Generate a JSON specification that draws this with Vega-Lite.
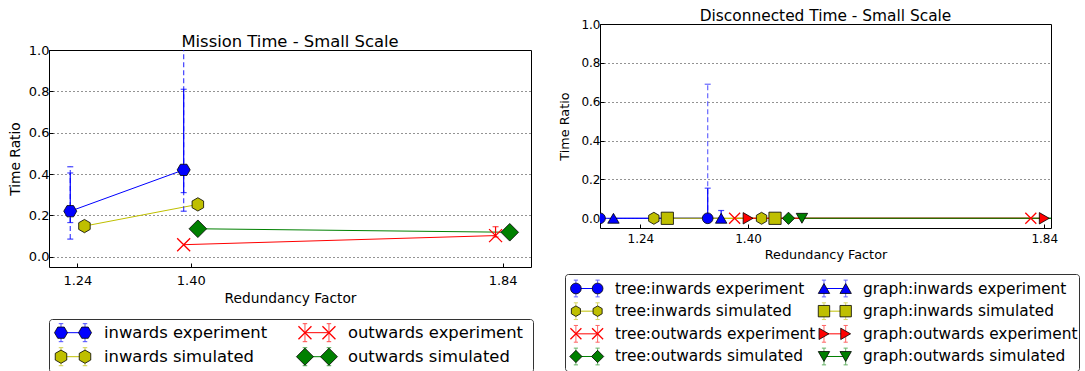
{
  "$schema": "https://vega.github.io/schema/vega-lite/v6.json",
  "padding": {"left": 7, "top": 8, "right": 0, "bottom": 0},
  "background": "white",
  "config": {
    "font": "DejaVu Sans",
    "view": {"stroke": "#000000", "strokeWidth": 1},
    "axis": {
      "domain": false,
      "tickColor": "#000000",
      "tickSize": -4,
      "labelColor": "#000000",
      "titleColor": "#000000",
      "titleFontWeight": "normal",
      "labelFont": "DejaVu Sans",
      "titleFont": "DejaVu Sans"
    },
    "title": {"color": "#000000", "fontWeight": "normal", "font": "DejaVu Sans", "anchor": "middle"}
  },
  "datasets": {
    "mission": [
      {"series": "inwards experiment", "direction": "inwards", "source": "experiment", "rf": 1.23, "ratio": 0.22, "lo": 0.165, "hi": 0.405, "min": 0.085, "max": 0.435},
      {"series": "inwards experiment", "direction": "inwards", "source": "experiment", "rf": 1.39, "ratio": 0.42, "lo": 0.31, "hi": 0.81, "min": 0.22, "max": 1.12},
      {"series": "inwards simulated", "direction": "inwards", "source": "simulated", "rf": 1.25, "ratio": 0.148},
      {"series": "inwards simulated", "direction": "inwards", "source": "simulated", "rf": 1.41, "ratio": 0.253},
      {"series": "outwards experiment", "direction": "outwards", "source": "experiment", "rf": 1.39, "ratio": 0.058},
      {"series": "outwards experiment", "direction": "outwards", "source": "experiment", "rf": 1.83, "ratio": 0.102, "lo": 0.095, "hi": 0.145},
      {"series": "outwards simulated", "direction": "outwards", "source": "simulated", "rf": 1.41, "ratio": 0.135},
      {"series": "outwards simulated", "direction": "outwards", "source": "simulated", "rf": 1.85, "ratio": 0.118}
    ],
    "disconnected": [
      {"series": "tree:inwards experiment", "topology": "tree", "kind": "inwards experiment", "rf": 1.18, "ratio": 0},
      {"series": "tree:inwards experiment", "topology": "tree", "kind": "inwards experiment", "rf": 1.34, "ratio": 0, "lo": 0, "hi": 0.155, "min": 0, "max": 0.69},
      {"series": "tree:inwards simulated", "topology": "tree", "kind": "inwards simulated", "rf": 1.26, "ratio": 0},
      {"series": "tree:inwards simulated", "topology": "tree", "kind": "inwards simulated", "rf": 1.42, "ratio": 0},
      {"series": "tree:outwards experiment", "topology": "tree", "kind": "outwards experiment", "rf": 1.38, "ratio": 0},
      {"series": "tree:outwards experiment", "topology": "tree", "kind": "outwards experiment", "rf": 1.82, "ratio": 0},
      {"series": "tree:outwards simulated", "topology": "tree", "kind": "outwards simulated", "rf": 1.46, "ratio": 0},
      {"series": "tree:outwards simulated", "topology": "tree", "kind": "outwards simulated", "rf": 1.90, "ratio": 0},
      {"series": "graph:inwards experiment", "topology": "graph", "kind": "inwards experiment", "rf": 1.20, "ratio": 0},
      {"series": "graph:inwards experiment", "topology": "graph", "kind": "inwards experiment", "rf": 1.36, "ratio": 0, "lo": 0, "hi": 0.04},
      {"series": "graph:inwards simulated", "topology": "graph", "kind": "inwards simulated", "rf": 1.28, "ratio": 0},
      {"series": "graph:inwards simulated", "topology": "graph", "kind": "inwards simulated", "rf": 1.44, "ratio": 0},
      {"series": "graph:outwards experiment", "topology": "graph", "kind": "outwards experiment", "rf": 1.40, "ratio": 0},
      {"series": "graph:outwards experiment", "topology": "graph", "kind": "outwards experiment", "rf": 1.84, "ratio": 0},
      {"series": "graph:outwards simulated", "topology": "graph", "kind": "outwards simulated", "rf": 1.48, "ratio": 0},
      {"series": "graph:outwards simulated", "topology": "graph", "kind": "outwards simulated", "rf": 1.92, "ratio": 0}
    ]
  },
  "resolve": {"scale": {"x": "independent", "y": "independent", "color": "independent", "shape": "independent", "size": "independent"}},
  "spacing": 24,
  "hconcat": [
    {
      "spacing": 8,
      "resolve": {"scale": {"x": "independent", "y": "independent", "color": "independent", "shape": "independent", "size": "independent"}},
      "vconcat": [
        {
          "width": 1,
          "height": 1,
          "data": {"values": []},
          "view": {"stroke": null},
          "mark": {"type": "rule", "opacity": 0},
          "encoding": {}
        },
        {
          "bounds": "flush",
          "spacing": 52,
          "resolve": {"scale": {"x": "independent", "y": "independent", "color": "independent", "shape": "independent", "size": "independent"}},
          "vconcat": [
            {
              "width": 482,
              "height": 217,
              "title": {"text": "Mission Time - Small Scale", "fontSize": 16.4, "offset": -6},
              "data": {"name": "mission"},
              "encoding": {
                "x": {
                  "field": "rf", "type": "quantitative",
                  "scale": {"domain": [1.2, 1.88], "nice": false, "zero": false},
                  "axis": {"values": [1.24, 1.4, 1.84], "format": ".2f", "title": "Redundancy Factor", "grid": false, "labelPadding": 11, "labelFontSize": 13, "titleFontSize": 13.8, "titlePadding": 4}
                },
                "y": {
                  "field": "ratio", "type": "quantitative",
                  "scale": {"domain": [-0.05, 1.0], "nice": false, "zero": false},
                  "axis": {"values": [0, 0.2, 0.4, 0.6, 0.8, 1.0], "format": ".1f", "title": "Time Ratio", "grid": true, "gridDash": [1, 3], "gridColor": "#000000", "gridOpacity": 0.85, "labelPadding": 4, "labelFontSize": 13, "titleFontSize": 13.8, "titlePadding": 6}
                },
                "color": {
                  "field": "series", "type": "nominal", "legend": null,
                  "scale": {"domain": ["inwards experiment", "inwards simulated", "outwards experiment", "outwards simulated"], "range": ["#0000ff", "#bfbf00", "#ff0000", "#008000"]}
                }
              },
              "layer": [
                {"mark": {"type": "line", "strokeWidth": 1, "clip": true}},
                {
                  "transform": [{"filter": "isValid(datum.min)"}],
                  "mark": {"type": "rule", "strokeDash": [5, 3], "strokeWidth": 1.2, "opacity": 0.75, "clip": true},
                  "encoding": {"y": {"field": "min", "type": "quantitative", "title": "Time Ratio"}, "y2": {"field": "max"}}
                },
                {
                  "transform": [{"filter": "isValid(datum.min)"}, {"fold": ["min", "max"], "as": ["end", "bound"]}],
                  "mark": {"type": "tick", "orient": "horizontal", "size": 6, "thickness": 1.2, "opacity": 0.75, "clip": true},
                  "encoding": {"y": {"field": "bound", "type": "quantitative", "title": "Time Ratio"}}
                },
                {
                  "transform": [{"filter": "isValid(datum.lo)"}],
                  "mark": {"type": "rule", "strokeWidth": 1.2, "clip": true},
                  "encoding": {"y": {"field": "lo", "type": "quantitative", "title": "Time Ratio"}, "y2": {"field": "hi"}}
                },
                {
                  "transform": [{"filter": "isValid(datum.lo)"}, {"fold": ["lo", "hi"], "as": ["end", "bound"]}],
                  "mark": {"type": "tick", "orient": "horizontal", "size": 6, "thickness": 1.2, "clip": true},
                  "encoding": {"y": {"field": "bound", "type": "quantitative", "title": "Time Ratio"}}
                },
                {
                  "mark": {"type": "point", "filled": true, "opacity": 1, "clip": true},
                  "encoding": {
                    "shape": {
                      "field": "series", "type": "nominal", "legend": null,
                      "scale": {"domain": ["inwards experiment", "inwards simulated", "outwards experiment", "outwards simulated"], "range": ["M-1,0L-0.5,-0.866L0.5,-0.866L1,0L0.5,0.866L-0.5,0.866Z", "M0,-1L0.866,-0.5L0.866,0.5L0,1L-0.866,0.5L-0.866,-0.5Z", "M-1,-1L1,1M-1,1L1,-1", "M0,-1L1,0L0,1L-1,0Z"]}
                    },
                    "size": {
                      "field": "series", "type": "nominal", "legend": null,
                      "scale": {"type": "ordinal", "domain": ["inwards experiment", "inwards simulated", "outwards experiment", "outwards simulated"], "range": [169, 177, 169, 310]}
                    },
                    "stroke": {"condition": {"test": "datum.series === 'outwards experiment'", "value": "#ff0000"}, "value": "#000000"},
                    "strokeWidth": {"condition": {"test": "datum.series === 'outwards experiment'", "value": 1.3}, "value": 0.8}
                  }
                }
              ]
            },
            {
              "width": 484,
              "height": 53,
              "data": {"name": "mission"},
              "transform": [{"aggregate": [{"op": "count", "as": "n"}], "groupby": ["series", "direction", "source"]}],
              "view": {"stroke": "#333333", "strokeWidth": 1, "cornerRadius": 3},
              "encoding": {
                "x": {"field": "direction", "type": "nominal", "axis": null, "scale": {"type": "point", "domain": ["inwards", "outwards"], "padding": 0.492, "align": 0.05}},
                "y": {"field": "source", "type": "nominal", "axis": null, "scale": {"type": "point", "domain": ["experiment", "simulated"], "padding": 0.604, "align": 0.472}},
                "color": {
                  "field": "series", "type": "nominal", "legend": null,
                  "scale": {"domain": ["inwards experiment", "inwards simulated", "outwards experiment", "outwards simulated"], "range": ["#0000ff", "#bfbf00", "#ff0000", "#008000"]}
                }
              },
              "layer": [
                {"mark": {"type": "rule", "strokeWidth": 1, "x2Offset": 24}, "encoding": {"x2": {"field": "direction"}}},
                {"mark": {"type": "point", "filled": false, "shape": "M0,-1L0,1M-0.25,-1L0.25,-1M-0.25,1L0.25,1", "size": 324, "strokeWidth": 1, "opacity": 0.7}},
                {"mark": {"type": "point", "filled": false, "shape": "M0,-1L0,1M-0.25,-1L0.25,-1M-0.25,1L0.25,1", "size": 324, "strokeWidth": 1, "opacity": 0.7, "xOffset": 24}},
                {
                  "mark": {"type": "point", "filled": true, "opacity": 1},
                  "encoding": {
                    "shape": {
                      "field": "series", "type": "nominal", "legend": null,
                      "scale": {"domain": ["inwards experiment", "inwards simulated", "outwards experiment", "outwards simulated"], "range": ["M-1,0L-0.5,-0.866L0.5,-0.866L1,0L0.5,0.866L-0.5,0.866Z", "M0,-1L0.866,-0.5L0.866,0.5L0,1L-0.866,0.5L-0.866,-0.5Z", "M-1,-1L1,1M-1,1L1,-1", "M0,-1L1,0L0,1L-1,0Z"]}
                    },
                    "size": {
                      "field": "series", "type": "nominal", "legend": null,
                      "scale": {"type": "ordinal", "domain": ["inwards experiment", "inwards simulated", "outwards experiment", "outwards simulated"], "range": [169, 177, 169, 290]}
                    },
                    "stroke": {"condition": {"test": "datum.series === 'outwards experiment'", "value": "#ff0000"}, "value": "#000000"},
                    "strokeWidth": {"condition": {"test": "datum.series === 'outwards experiment'", "value": 1.3}, "value": 0.8}
                  }
                },
                {
                  "mark": {"type": "point", "filled": true, "opacity": 1, "xOffset": 24},
                  "encoding": {
                    "shape": {
                      "field": "series", "type": "nominal", "legend": null,
                      "scale": {"domain": ["inwards experiment", "inwards simulated", "outwards experiment", "outwards simulated"], "range": ["M-1,0L-0.5,-0.866L0.5,-0.866L1,0L0.5,0.866L-0.5,0.866Z", "M0,-1L0.866,-0.5L0.866,0.5L0,1L-0.866,0.5L-0.866,-0.5Z", "M-1,-1L1,1M-1,1L1,-1", "M0,-1L1,0L0,1L-1,0Z"]}
                    },
                    "size": {
                      "field": "series", "type": "nominal", "legend": null,
                      "scale": {"type": "ordinal", "domain": ["inwards experiment", "inwards simulated", "outwards experiment", "outwards simulated"], "range": [169, 177, 169, 290]}
                    },
                    "stroke": {"condition": {"test": "datum.series === 'outwards experiment'", "value": "#ff0000"}, "value": "#000000"},
                    "strokeWidth": {"condition": {"test": "datum.series === 'outwards experiment'", "value": 1.3}, "value": 0.8}
                  }
                },
                {
                  "mark": {"type": "text", "align": "left", "baseline": "middle", "xOffset": 43, "fontSize": 16.4, "font": "DejaVu Sans"},
                  "encoding": {"text": {"field": "series"}, "color": {"value": "#000000"}}
                }
              ]
            }
          ]
        }
      ]
    },
    {
      "spacing": 11,
      "resolve": {"scale": {"x": "independent", "y": "independent", "color": "independent", "shape": "independent", "size": "independent"}},
      "vconcat": [
        {
          "bounds": "flush",
          "spacing": 34,
          "resolve": {"scale": {"x": "independent", "y": "independent", "color": "independent", "shape": "independent", "size": "independent"}},
          "hconcat": [
            {
              "width": 1,
              "height": 1,
              "data": {"values": []},
              "view": {"stroke": null},
              "mark": {"type": "rule", "opacity": 0},
              "encoding": {}
            },
            {
              "width": 451,
              "height": 204,
              "title": {"text": "Disconnected Time - Small Scale", "fontSize": 15.4, "offset": -6},
              "data": {"name": "disconnected"},
              "encoding": {
                "x": {
                  "field": "rf", "type": "quantitative",
                  "scale": {"domain": [1.18, 1.85], "nice": false, "zero": false},
                  "axis": {"values": [1.24, 1.4, 1.84], "format": ".2f", "title": "Redundancy Factor", "grid": false, "labelPadding": 9, "labelFontSize": 12, "titleFontSize": 12.8, "titlePadding": 4}
                },
                "y": {
                  "field": "ratio", "type": "quantitative",
                  "scale": {"domain": [-0.05, 1.0], "nice": false, "zero": false},
                  "axis": {"values": [0, 0.2, 0.4, 0.6, 0.8, 1.0], "format": ".1f", "title": "Time Ratio", "grid": true, "gridDash": [1, 3], "gridColor": "#000000", "gridOpacity": 0.85, "labelPadding": 4, "labelFontSize": 12, "titleFontSize": 12.8, "titlePadding": 9}
                },
                "color": {
                  "field": "series", "type": "nominal", "legend": null,
                  "scale": {
                    "domain": ["tree:inwards experiment", "tree:inwards simulated", "tree:outwards experiment", "tree:outwards simulated", "graph:inwards experiment", "graph:inwards simulated", "graph:outwards experiment", "graph:outwards simulated"],
                    "range": ["#0000ff", "#bfbf00", "#ff0000", "#008000", "#0000ff", "#bfbf00", "#ff0000", "#008000"]
                  }
                }
              },
              "layer": [
                {"mark": {"type": "line", "strokeWidth": 1, "clip": true}},
                {
                  "transform": [{"filter": "isValid(datum.min)"}],
                  "mark": {"type": "rule", "strokeDash": [5, 3], "strokeWidth": 1.2, "opacity": 0.6, "clip": true},
                  "encoding": {"y": {"field": "min", "type": "quantitative", "title": "Time Ratio"}, "y2": {"field": "max"}}
                },
                {
                  "transform": [{"filter": "isValid(datum.min)"}, {"fold": ["min", "max"], "as": ["end", "bound"]}],
                  "mark": {"type": "tick", "orient": "horizontal", "size": 6, "thickness": 1.2, "opacity": 0.6, "clip": true},
                  "encoding": {"y": {"field": "bound", "type": "quantitative", "title": "Time Ratio"}}
                },
                {
                  "transform": [{"filter": "isValid(datum.lo)"}],
                  "mark": {"type": "rule", "strokeWidth": 1.2, "clip": true},
                  "encoding": {"y": {"field": "lo", "type": "quantitative", "title": "Time Ratio"}, "y2": {"field": "hi"}}
                },
                {
                  "transform": [{"filter": "isValid(datum.lo)"}, {"fold": ["lo", "hi"], "as": ["end", "bound"]}],
                  "mark": {"type": "tick", "orient": "horizontal", "size": 6, "thickness": 1.2, "clip": true},
                  "encoding": {"y": {"field": "bound", "type": "quantitative", "title": "Time Ratio"}}
                },
                {
                  "mark": {"type": "point", "filled": true, "opacity": 1, "clip": true},
                  "encoding": {
                    "shape": {
                      "field": "series", "type": "nominal", "legend": null,
                      "scale": {
                        "domain": ["tree:inwards experiment", "tree:inwards simulated", "tree:outwards experiment", "tree:outwards simulated", "graph:inwards experiment", "graph:inwards simulated", "graph:outwards experiment", "graph:outwards simulated"],
                        "range": ["circle", "M0,-1L0.866,-0.5L0.866,0.5L0,1L-0.866,0.5L-0.866,-0.5Z", "M-1,-1L1,1M-1,1L1,-1", "M0,-1L1,0L0,1L-1,0Z", "triangle-up", "square", "triangle-right", "triangle-down"]
                      }
                    },
                    "size": {
                      "field": "series", "type": "nominal", "legend": null,
                      "scale": {
                        "type": "ordinal",
                        "domain": ["tree:inwards experiment", "tree:inwards simulated", "tree:outwards experiment", "tree:outwards simulated", "graph:inwards experiment", "graph:inwards simulated", "graph:outwards experiment", "graph:outwards simulated"],
                        "range": [115, 144, 121, 150, 130, 150, 130, 130]
                      }
                    },
                    "stroke": {"condition": {"test": "datum.series === 'tree:outwards experiment'", "value": "#ff0000"}, "value": "#000000"},
                    "strokeWidth": {"condition": {"test": "datum.series === 'tree:outwards experiment'", "value": 1.3}, "value": 0.8}
                  }
                }
              ]
            }
          ]
        },
        {
          "width": 514,
          "height": 97,
          "data": {"name": "disconnected"},
          "transform": [{"aggregate": [{"op": "count", "as": "n"}], "groupby": ["series", "topology", "kind"]}],
          "view": {"stroke": "#333333", "strokeWidth": 1, "cornerRadius": 3},
          "encoding": {
            "x": {"field": "topology", "type": "nominal", "axis": null, "scale": {"type": "point", "domain": ["tree", "graph"], "padding": 0.536, "align": 0.041}},
            "y": {"field": "kind", "type": "nominal", "axis": null, "scale": {"type": "point", "domain": ["inwards experiment", "inwards simulated", "outwards experiment", "outwards simulated"], "padding": 0.64, "align": 0.5}},
            "color": {
              "field": "series", "type": "nominal", "legend": null,
              "scale": {
                "domain": ["tree:inwards experiment", "tree:inwards simulated", "tree:outwards experiment", "tree:outwards simulated", "graph:inwards experiment", "graph:inwards simulated", "graph:outwards experiment", "graph:outwards simulated"],
                "range": ["#0000ff", "#bfbf00", "#ff0000", "#008000", "#0000ff", "#bfbf00", "#ff0000", "#008000"]
              }
            }
          },
          "layer": [
            {"mark": {"type": "rule", "strokeWidth": 1, "x2Offset": 21.7}, "encoding": {"x2": {"field": "topology"}}},
            {"mark": {"type": "point", "filled": false, "shape": "M0,-1L0,1M-0.25,-1L0.25,-1M-0.25,1L0.25,1", "size": 280, "strokeWidth": 1, "opacity": 0.6}},
            {"mark": {"type": "point", "filled": false, "shape": "M0,-1L0,1M-0.25,-1L0.25,-1M-0.25,1L0.25,1", "size": 280, "strokeWidth": 1, "opacity": 0.6, "xOffset": 21.7}},
            {
              "mark": {"type": "point", "filled": true, "opacity": 1},
              "encoding": {
                "shape": {
                  "field": "series", "type": "nominal", "legend": null,
                  "scale": {
                    "domain": ["tree:inwards experiment", "tree:inwards simulated", "tree:outwards experiment", "tree:outwards simulated", "graph:inwards experiment", "graph:inwards simulated", "graph:outwards experiment", "graph:outwards simulated"],
                    "range": ["circle", "M0,-1L0.866,-0.5L0.866,0.5L0,1L-0.866,0.5L-0.866,-0.5Z", "M-1,-1L1,1M-1,1L1,-1", "M0,-1L1,0L0,1L-1,0Z", "triangle-up", "square", "triangle-right", "triangle-down"]
                  }
                },
                "size": {
                  "field": "series", "type": "nominal", "legend": null,
                  "scale": {
                    "type": "ordinal",
                    "domain": ["tree:inwards experiment", "tree:inwards simulated", "tree:outwards experiment", "tree:outwards simulated", "graph:inwards experiment", "graph:inwards simulated", "graph:outwards experiment", "graph:outwards simulated"],
                    "range": [115, 110, 121, 150, 130, 130, 130, 130]
                  }
                },
                "stroke": {"condition": {"test": "datum.series === 'tree:outwards experiment'", "value": "#ff0000"}, "value": "#000000"},
                "strokeWidth": {"condition": {"test": "datum.series === 'tree:outwards experiment'", "value": 1.3}, "value": 0.8}
              }
            },
            {
              "mark": {"type": "point", "filled": true, "opacity": 1, "xOffset": 21.7},
              "encoding": {
                "shape": {
                  "field": "series", "type": "nominal", "legend": null,
                  "scale": {
                    "domain": ["tree:inwards experiment", "tree:inwards simulated", "tree:outwards experiment", "tree:outwards simulated", "graph:inwards experiment", "graph:inwards simulated", "graph:outwards experiment", "graph:outwards simulated"],
                    "range": ["circle", "M0,-1L0.866,-0.5L0.866,0.5L0,1L-0.866,0.5L-0.866,-0.5Z", "M-1,-1L1,1M-1,1L1,-1", "M0,-1L1,0L0,1L-1,0Z", "triangle-up", "square", "triangle-right", "triangle-down"]
                  }
                },
                "size": {
                  "field": "series", "type": "nominal", "legend": null,
                  "scale": {
                    "type": "ordinal",
                    "domain": ["tree:inwards experiment", "tree:inwards simulated", "tree:outwards experiment", "tree:outwards simulated", "graph:inwards experiment", "graph:inwards simulated", "graph:outwards experiment", "graph:outwards simulated"],
                    "range": [115, 110, 121, 150, 130, 130, 130, 130]
                  }
                },
                "stroke": {"condition": {"test": "datum.series === 'tree:outwards experiment'", "value": "#ff0000"}, "value": "#000000"},
                "strokeWidth": {"condition": {"test": "datum.series === 'tree:outwards experiment'", "value": 1.3}, "value": 0.8}
              }
            },
            {
              "mark": {"type": "text", "align": "left", "baseline": "middle", "xOffset": 39, "fontSize": 15.4, "font": "DejaVu Sans"},
              "encoding": {"text": {"field": "series"}, "color": {"value": "#000000"}}
            }
          ]
        }
      ]
    }
  ]
}
